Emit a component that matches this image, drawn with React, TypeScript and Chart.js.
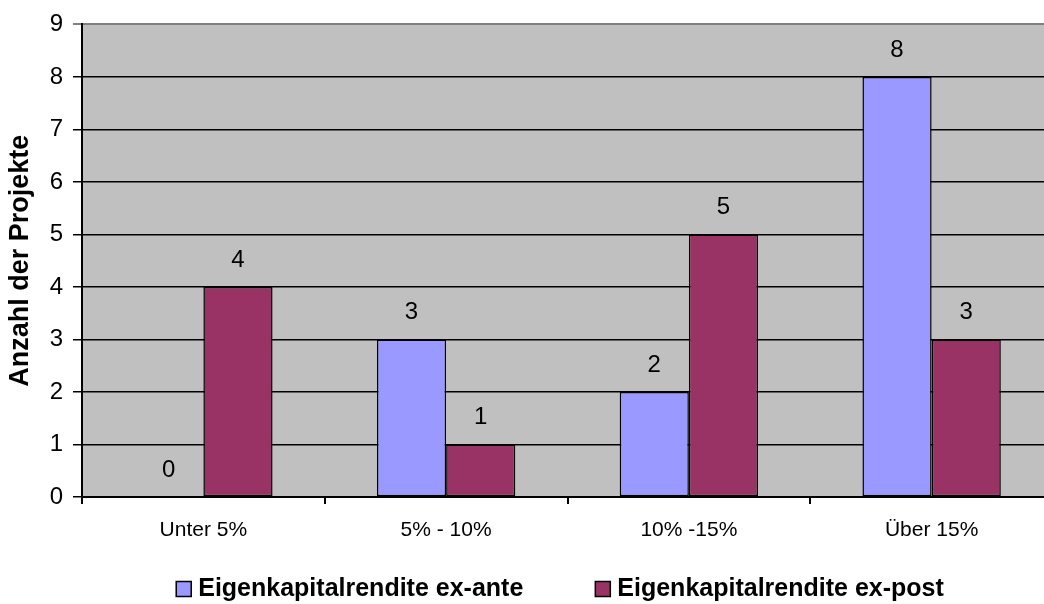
import React, { useEffect, useRef } from "react";
import { Chart, registerables } from "chart.js";

Chart.register(...registerables);

const categories = ["Unter 5%", "5% - 10%", "10% -15%", "Über 15%"];
const exAnte = [0, 3, 2, 8];
const exPost = [4, 1, 5, 3];
const seriesNames = ["Eigenkapitalrendite ex-ante", "Eigenkapitalrendite ex-post"];
const yMax = 9;

const FONT = "'Liberation Sans', Arial, Helvetica, sans-serif";

export default function App() {
  const ref = useRef<HTMLCanvasElement | null>(null);

  useEffect(() => {
    if (!ref.current) return;
    const bgPlugin = {
      id: "plotBg",
      beforeDraw(chart: any) {
        const { ctx, chartArea } = chart;
        ctx.save();
        ctx.fillStyle = "#C0C0C0";
        ctx.fillRect(chartArea.left, chartArea.top, chartArea.right - chartArea.left, chartArea.bottom - chartArea.top);
        ctx.restore();
      },
    };
    const labelPlugin = {
      id: "valueLabels",
      afterDatasetsDraw(chart: any) {
        const { ctx } = chart;
        ctx.save();
        ctx.font = `24px ${FONT}`;
        ctx.fillStyle = "#000";
        ctx.textAlign = "center";
        ctx.textBaseline = "middle";
        chart.data.datasets.forEach((ds: any, i: number) => {
          const meta = chart.getDatasetMeta(i);
          meta.data.forEach((el: any, j: number) => {
            ctx.fillText(String(ds.data[j]), el.x, el.y - 27);
          });
        });
        ctx.restore();
      },
    };
    const legendPlugin = {
      id: "customLegend",
      afterDraw(chart: any) {
        const { ctx } = chart;
        ctx.save();
        ctx.font = `bold 25px ${FONT}`;
        ctx.textBaseline = "middle";
        ctx.textAlign = "left";
        const box = 15;
        const gap = 7;
        const itemGap = 72;
        const items = chart.data.datasets.map((ds: any) => ({
          label: ds.label,
          color: ds.backgroundColor,
          w: box + gap + ctx.measureText(ds.label).width,
        }));
        const total = items.reduce((s: number, it: any) => s + it.w, 0) + itemGap * (items.length - 1);
        let x = 560 - total / 2;
        const yMid = 589;
        items.forEach((it: any) => {
          ctx.fillStyle = it.color;
          ctx.fillRect(x, yMid - box / 2, box, box);
          ctx.lineWidth = 1.5;
          ctx.strokeStyle = "#000";
          ctx.strokeRect(x, yMid - box / 2, box, box);
          ctx.fillStyle = "#000";
          ctx.fillText(it.label, x + box + gap, yMid);
          x += it.w + itemGap;
        });
        ctx.restore();
      },
    };

    const chart = new Chart(ref.current, {
      type: "bar",
      data: {
        labels: categories,
        datasets: [
          {
            label: seriesNames[0],
            data: exAnte,
            backgroundColor: "#9999FF",
            borderColor: "#000000",
            borderWidth: 1.5,
            borderSkipped: false,
          },
          {
            label: seriesNames[1],
            data: exPost,
            backgroundColor: "#993366",
            borderColor: "#000000",
            borderWidth: 1.5,
            borderSkipped: false,
          },
        ],
      },
      options: {
        responsive: false,
        animation: false,
        layout: { padding: { top: 18, right: 9, left: 0, bottom: 0 } },
        plugins: {
          legend: { display: false },
          tooltip: { enabled: false },
        },
        datasets: {
          bar: { barPercentage: 1, categoryPercentage: 0.57 },
        },
        scales: {
          x: {
            offset: true,
            grid: {
              offset: true,
              drawOnChartArea: false,
              drawTicks: true,
              tickLength: 7,
              color: "#000",
              lineWidth: 2,
            },
            border: { display: true, color: "#000", width: 2 },
            ticks: {
              color: "#000",
              font: { family: FONT, size: 21 },
              padding: 14,
            },
            afterFit(scale: any) {
              scale.height = 107;
            },
          },
          y: {
            min: 0,
            max: yMax,
            ticks: {
              stepSize: 1,
              color: "#000",
              font: { family: FONT, size: 24 },
              padding: 10,
            },
            grid: {
              color: (c: any) => (c.tick && c.tick.value === yMax ? "#808080" : "#000"),
              lineWidth: (c: any) => (c.tick && c.tick.value === yMax ? 2 : 1.5),
              tickLength: 9,
              drawTicks: true,
            },
            border: { display: true, color: "#000", width: 2 },
            title: {
              display: true,
              text: "Anzahl der Projekte",
              color: "#000",
              font: { family: FONT, size: 27, weight: "bold" },
              padding: { top: 4, bottom: 0 },
            },
            afterFit(scale: any) {
              scale.width = 82;
            },
          },
        },
      },
      plugins: [bgPlugin, labelPlugin, legendPlugin],
    } as any);
    return () => chart.destroy();
  }, []);

  return (
    <div style={{ position: "fixed", left: 0, top: 0, width: 1062, height: 604, background: "#fff" }}>
      <canvas ref={ref} width={1062} height={604} style={{ display: "block" }} />
    </div>
  );
}
